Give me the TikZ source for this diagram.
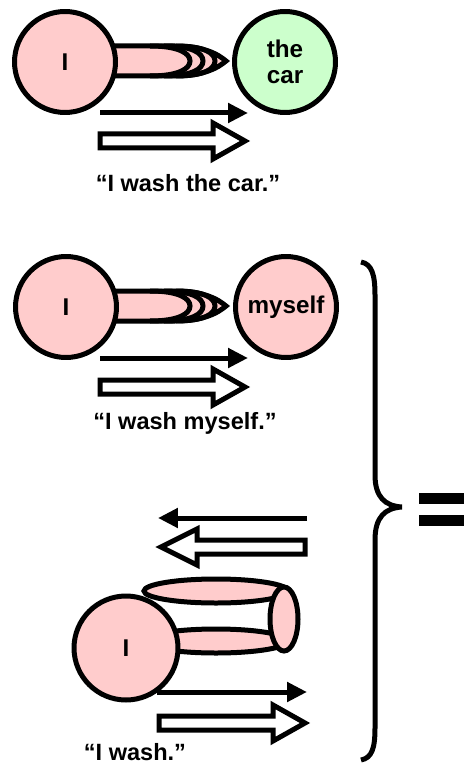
\documentclass[tikz,border=0pt]{standalone}
\usepackage{fontspec}
\setmainfont{Liberation Sans}
\usetikzlibrary{arrows.meta}
\definecolor{skin}{RGB}{255,204,204}
\definecolor{mint}{RGB}{204,255,204}

\begin{document}
\begin{tikzpicture}[
        x=0.02cm, y=-0.02cm,
        ball/.style={circle, draw, line width=0.1cm, fill=skin, minimum size=2.02cm, inner sep=0pt, align=center, font=\fontsize{13.8}{14.8}\selectfont\bfseries},
        caption/.style={font=\fontsize{13.4}{15}\selectfont\bfseries},
        outline/.style={draw, line width=0.1cm, fill=skin},
        coil/.style={draw, line width=0.1cm},
        thin arrow/.style={line width=0.1cm, -{Triangle[length=0.4cm, width=0.38cm]}},
        hollow/.style={draw, line width=0.1cm, fill=white, line join=miter}
    ]
        \useasboundingbox (0,0) rectangle (463,770);

        \draw[outline] (100,46) -- (175,46) .. controls (205,46) and (219,55) .. (226,61) .. controls (219,67) and (205,76) .. (175,76) -- (100,76) -- cycle;
        \draw[coil] (150,46) .. controls (178,46) and (190,53) .. (190,61) .. controls (190,69) and (178,76) .. (150,76);
        \draw[coil] (164,46) .. controls (192,46) and (203,53) .. (203,61) .. controls (203,69) and (192,76) .. (164,76);
        \draw[coil] (176,46) .. controls (204,46) and (215,53) .. (215,61) .. controls (215,69) and (204,76) .. (176,76);
        \node[ball] (me1) at (65,62) {I};
        \node[ball, fill=mint] (car) at (285,62) {the\\car};
        \coordinate (s1) at (100,113);
        \coordinate (e1) at (248,113);
        \draw[thin arrow] (s1) -- (e1);
        \coordinate (b1) at (100,141);
        \draw[hollow] (b1) ++(0,-7) -- ++(113,0) -- ++(0,-11) -- ++(32,18) -- ++(-32,18) -- ++(0,-11) -- ++(-113,0) -- cycle;
        \node[caption] (say1) at (188,183) {“I wash the car.”};

        \draw[outline] (100,291) -- (175,291) .. controls (205,291) and (219,300) .. (226,306) .. controls (219,312) and (205,321) .. (175,321) -- (100,321) -- cycle;
        \draw[coil] (150,291) .. controls (178,291) and (190,298) .. (190,306) .. controls (190,314) and (178,321) .. (150,321);
        \draw[coil] (164,291) .. controls (192,291) and (203,298) .. (203,306) .. controls (203,314) and (192,321) .. (164,321);
        \draw[coil] (176,291) .. controls (204,291) and (215,298) .. (215,306) .. controls (215,314) and (204,321) .. (176,321);
        \node[ball] (me2) at (66,307) {I};
        \node[ball] (self) at (286,307) {myself};
        \coordinate (s2) at (100,358);
        \coordinate (e2) at (248,358);
        \draw[thin arrow] (s2) -- (e2);
        \coordinate (b2) at (100,387);
        \draw[hollow] (b2) ++(0,-7) -- ++(113,0) -- ++(0,-11) -- ++(32,18) -- ++(-32,18) -- ++(0,-11) -- ++(-113,0) -- cycle;
        \node[caption] (say2) at (185,423) {“I wash myself.”};

        \coordinate (s3) at (307,518);
        \coordinate (e3) at (158,518);
        \draw[thin arrow] (s3) -- (e3);
        \coordinate (b3) at (305,547);
        \draw[hollow] (b3) ++(0,-7) -- ++(-108,0) -- ++(0,-11) -- ++(-36,18) -- ++(36,18) -- ++(0,-11) -- ++(108,0) -- cycle;
        \draw[outline] (216,591) ellipse [x radius=72, y radius=12];
        \draw[outline] (216,641) ellipse [x radius=72, y radius=12];
        \draw[outline] (284,619) ellipse [x radius=14, y radius=32];
        \node[ball, minimum size=2.08cm] (me3) at (126,648) {I};
        \coordinate (s4) at (157,692);
        \coordinate (e4) at (307,692);
        \draw[thin arrow] (s4) -- (e4);
        \coordinate (b4) at (159,723);
        \draw[hollow] (b4) ++(0,-7) -- ++(114,0) -- ++(0,-11) -- ++(32,18) -- ++(-32,18) -- ++(0,-11) -- ++(-114,0) -- cycle;
        \node[caption] (say3) at (135,752) {“I wash.”};

        \draw[line width=0.1cm] (361,262) .. controls (372,264) and (375,275) .. (375,295) -- (375,475) .. controls (375,497) and (385,506) .. (402,507) .. controls (385,508) and (375,517) .. (375,540) -- (375,728) .. controls (375,748) and (372,758) .. (361,760);
        \fill (419,493) rectangle (470,504);
        \fill (419,515) rectangle (470,526);
    \end{tikzpicture}
\end{document}
